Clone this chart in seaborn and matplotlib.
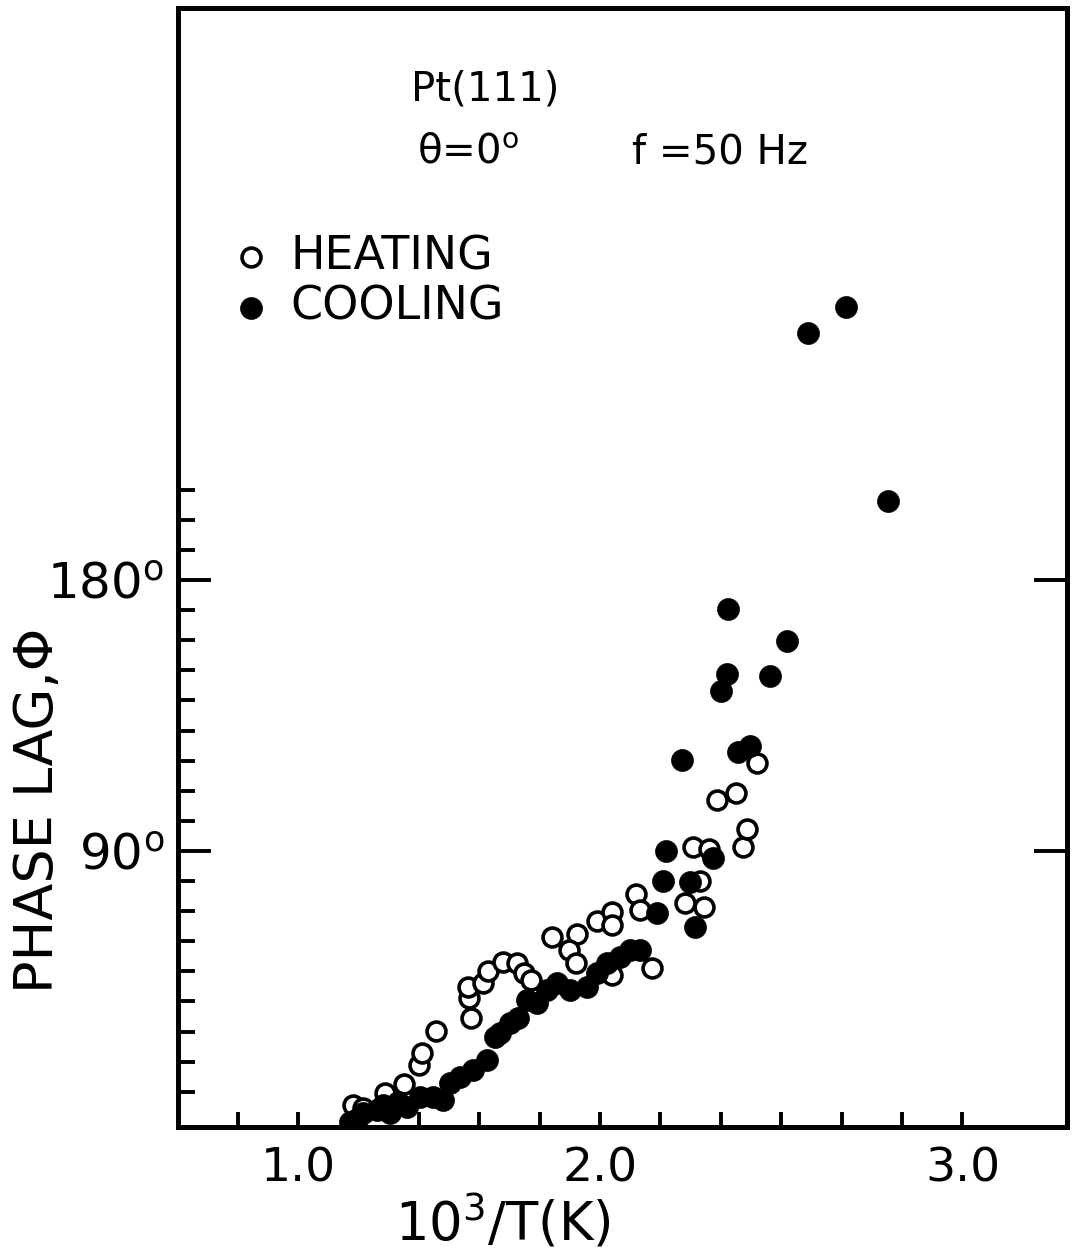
import matplotlib
matplotlib.use("Agg")
import matplotlib.pyplot as plt
import seaborn as sns
import numpy as np

sns.set_style("white")
plt.rcParams['font.family'] = ['DejaVu Sans']
plt.rcParams['mathtext.fontset'] = 'dejavusans'
for k in ['text.color', 'axes.labelcolor', 'xtick.color', 'ytick.color', 'axes.edgecolor']:
    plt.rcParams[k] = 'black'

# ---- data ----
heat_x = [1.182, 1.215, 1.288, 1.351, 1.401, 1.411, 1.457, 1.573, 1.566, 1.563,
          1.613, 1.629, 1.679, 1.725, 1.748, 1.772, 1.841, 1.924, 1.897, 1.921,
          1.990, 2.040, 2.040, 2.040, 2.119, 2.132, 2.172, 2.281, 2.344, 2.331,
          2.308, 2.361, 2.474, 2.487, 2.387, 2.450, 2.520]
heat_y = [5.6, 4.6, 9.6, 12.6, 18.9, 22.9, 30.2, 34.5, 41.2, 44.8,
          46.2, 50.1, 53.1, 52.8, 49.5, 47.2, 61.4, 62.4, 57.1, 52.8,
          66.8, 69.7, 65.4, 48.8, 75.7, 70.4, 51.1, 72.7, 71.4, 80.0,
          91.3, 90.7, 91.3, 97.3, 106.9, 109.3, 119.2]

cool_x = [1.172, 1.195, 1.215, 1.262, 1.281, 1.305, 1.331, 1.361, 1.404, 1.447,
          1.480, 1.503, 1.536, 1.579, 1.626, 1.652, 1.669, 1.702, 1.728, 1.758,
          1.791, 1.825, 1.858, 1.901, 1.957, 1.990, 2.023, 2.066, 2.099, 2.132,
          2.189, 2.315, 2.209, 2.298, 2.219, 2.374, 2.272, 2.457, 2.497, 2.401,
          2.421, 2.563, 2.619, 2.424, 2.954, 2.689, 2.815]
cool_y = [0.0, 1.0, 3.0, 4.0, 5.6, 3.0, 6.6, 5.0, 8.3, 8.3,
          7.3, 13.0, 14.9, 17.3, 20.6, 28.2, 29.6, 32.9, 34.5, 40.5,
          39.5, 43.8, 46.2, 43.8, 44.8, 49.5, 52.8, 54.8, 57.1, 57.1,
          69.4, 64.8, 80.0, 79.7, 90.0, 87.7, 120.2, 122.9, 124.9, 143.1,
          148.8, 148.1, 159.7, 170.4, 206.2, 262.0, 270.7]

x_label_pos = [1.0, 2.0, 3.2]
x_labels = ["1.0", "2.0", "3.0"]
y_major = [90, 180]
y_labels = [r"90$^{\mathrm{o}}$", r"180$^{\mathrm{o}}$"]

W, H = 1075, 1256
fig = plt.figure(figsize=(W / 100, H / 100), dpi=100)
ax = fig.add_axes([178 / W, 1 - 1127 / H, (1067 - 178) / W, (1127 - 8) / H])

sns.scatterplot(x=heat_x, y=heat_y, ax=ax, marker='o', s=185,
                facecolors='white', edgecolors='black', linewidth=2.6,
                label='HEATING', zorder=3)
sns.scatterplot(x=cool_x, y=cool_y, ax=ax, marker='o', s=250,
                color='black', edgecolor='black', linewidth=0.5,
                label='COOLING', zorder=4)

ax.set_xlim(0.603, 3.546)
ax.set_ylim(-1.7, 370)

for s in ax.spines.values():
    s.set_visible(True)
    s.set_linewidth(3.6)
    s.set_color('black')

# x ticks
ax.set_xticks(x_label_pos)
ax.set_xticklabels(x_labels)
ax.set_xticks(np.arange(0.8, 3.21, 0.2), minor=True)
ax.tick_params(axis='x', which='both', direction='in', length=11, width=2.8,
               bottom=True, top=False, labelsize=34, pad=14, colors='black')

# y ticks
ax.set_yticks(y_major)
ax.set_yticklabels(y_labels)
ax.set_yticks(np.arange(10, 211, 10), minor=True)
ax.tick_params(axis='y', which='major', direction='in', length=24, width=2.8,
               left=True, right=True, labelsize=36, pad=10, colors='black')
ax.tick_params(axis='y', which='minor', direction='in', length=12, width=2.8,
               left=True, right=False, colors='black')
ax.set_xlabel("")
ax.set_ylabel("")

leg = ax.legend(loc='upper left', bbox_to_anchor=(0.062, 0.798), frameon=False,
                fontsize=33, handlelength=0.8, handletextpad=0.45,
                labelspacing=0.12, borderpad=0, borderaxespad=0)
for t in leg.get_texts():
    t.set_color('black')

def ft(px, py, s, **kw):
    fig.text(px / W, 1 - py / H, s, ha='center', va='center', color='black', **kw)

ft(485, 90, "Pt(111)", fontsize=29)
ft(468, 152, r"θ=0$^{\mathrm{o}}$", fontsize=29)
ft(720, 152, "f =50 Hz", fontsize=29)
ft(38, 810, "PHASE LAG,Φ", fontsize=39, rotation=90)
ft(503, 1222, r"10$^{3}$/T(K)", fontsize=38)

fig.savefig("out.png", dpi=100)
